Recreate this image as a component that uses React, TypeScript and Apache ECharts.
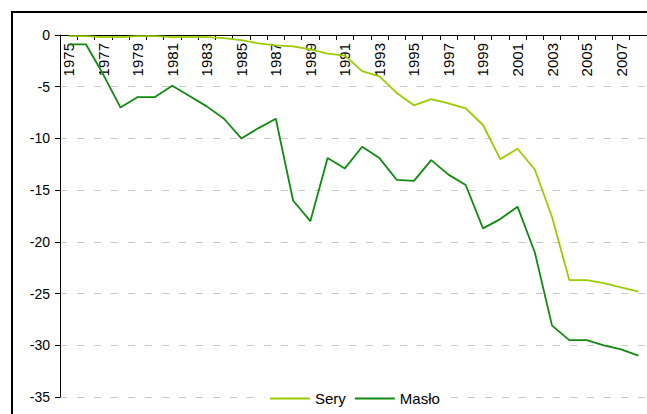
import React, { useEffect, useRef } from "react";
import * as echarts from "echarts";

const years = [
  "1975","1976","1977","1978","1979","1980","1981","1982","1983","1984",
  "1985","1986","1987","1988","1989","1990","1991","1992","1993","1994",
  "1995","1996","1997","1998","1999","2000","2001","2002","2003","2004",
  "2005","2006","2007","2008",
];

const sery = [
  -0.1, -0.1, -0.2, -0.2, -0.1, -0.1, -0.2, -0.2, -0.2, -0.3,
  -0.5, -0.8, -1.0, -1.1, -1.4, -1.8, -2.0, -3.5, -4.0, -5.6,
  -6.8, -6.2, -6.6, -7.1, -8.7, -12.0, -11.0, -13.0, -17.6, -23.7,
  -23.7, -24.0, -24.4, -24.8,
];

const maslo = [
  -0.9, -0.9, -3.8, -7, -6, -6, -4.9, -5.9, -6.9, -8.1,
  -10, -9, -8.1, -16, -18, -11.9, -12.9, -10.8, -11.9, -14,
  -14.1, -12.1, -13.5, -14.5, -18.7, -17.8, -16.6, -21, -28.1, -29.5,
  -29.5, -30, -30.4, -31,
];

const seriesNames = ["Sery", "Masło"];

const FONT = "'Liberation Sans', Arial, sans-serif";

export default function App() {
  const ref = useRef<HTMLDivElement>(null);
  useEffect(() => {
    document.body.style.margin = "0";
    if (!ref.current) return;
    const chart = echarts.init(ref.current, undefined, { renderer: "svg" });
    chart.setOption({
      animation: false,
      backgroundColor: "#fff",
      textStyle: { fontFamily: FONT },
      graphic: [
        {
          type: "rect",
          shape: { x: 12, y: 12, width: 700, height: 500 },
          style: { fill: "none", stroke: "#000", lineWidth: 2 },
        },
      ],
      grid: { left: 60, right: -3, top: 35, bottom: 17, containLabel: false },
      legend: {
        data: seriesNames,
        left: 265,
        top: 386,
        icon: "rect",
        itemWidth: 40,
        itemHeight: 2,
        itemGap: 9,
        padding: 5,
        backgroundColor: "#fff",
        textStyle: { fontSize: 15, color: "#000", fontFamily: FONT },
      },
      xAxis: {
        type: "category",
        data: years,
        position: "top",
        boundaryGap: true,
        axisLine: { onZero: false, lineStyle: { color: "#000", width: 1 } },
        axisTick: { show: true, inside: true, length: 5, interval: 0, lineStyle: { color: "#000" } },
        axisLabel: {
          inside: true,
          rotate: -90,
          interval: 1,
          margin: 8,
          align: "right",
          verticalAlign: "middle",
          fontSize: 15,
          color: "#000",
          fontFamily: FONT,
        },
        splitLine: { show: false },
      },
      yAxis: {
        type: "value",
        min: -35,
        max: 0,
        interval: 5,
        axisLine: { show: true, lineStyle: { color: "#000", width: 1 } },
        axisTick: { show: true, length: 5, lineStyle: { color: "#000" } },
        axisLabel: { fontSize: 14, color: "#000", margin: 10, fontFamily: FONT },
        splitLine: {
          show: true,
          lineStyle: { color: "#c8c8c8", type: [7, 10], width: 1.2 },
        },
      },
      series: [
        {
          name: seriesNames[0],
          type: "line",
          data: sery,
          symbol: "none",
          lineStyle: { color: "#99cc00", width: 1.8 },
          itemStyle: { color: "#99cc00" },
        },
        {
          name: seriesNames[1],
          type: "line",
          data: maslo,
          symbol: "none",
          lineStyle: { color: "#108a10", width: 1.8 },
          itemStyle: { color: "#108a10" },
        },
      ],
    });
    return () => chart.dispose();
  }, []);
  return <div ref={ref} style={{ width: 647, height: 414 }} />;
}
